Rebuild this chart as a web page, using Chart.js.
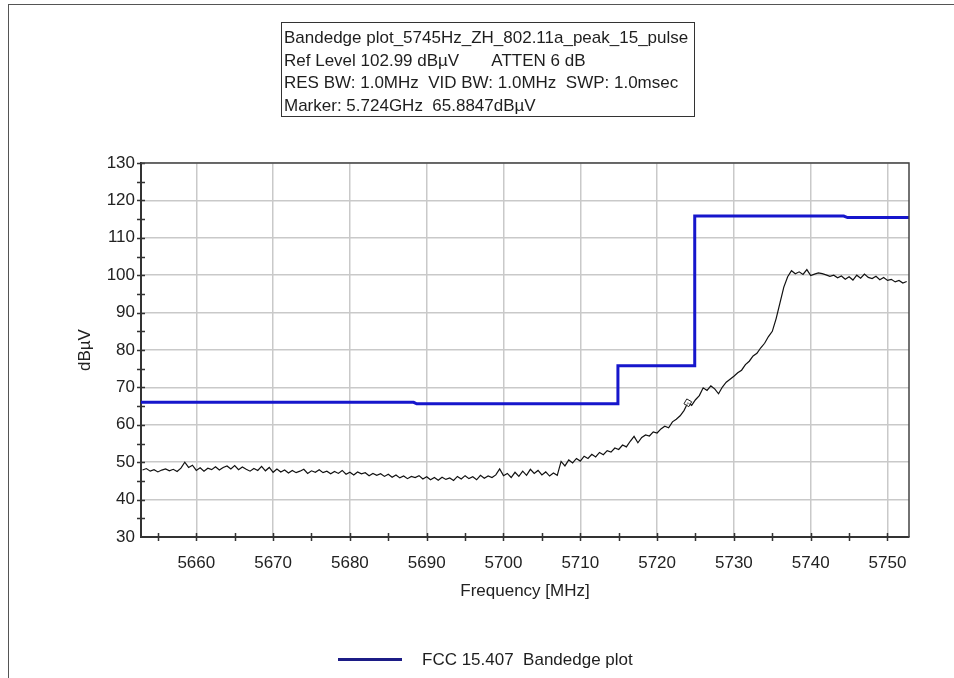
<!DOCTYPE html>
<html>
<head>
<meta charset="utf-8">
<title>Bandedge plot</title>
<script src="https://cdn.jsdelivr.net/npm/chart.js@4.4.1/dist/chart.umd.min.js"></script>
<style>
  html, body { margin: 0; padding: 0; background: #fff; }
  #wrap { position: relative; width: 954px; height: 678px; overflow: hidden; font-family: "Liberation Sans", Arial, sans-serif; color: #1e1e1e; }
  #frame { position: absolute; left: 8px; top: 4px; right: -2px; bottom: -2px; border-left: 1px solid #555; border-top: 1px solid #555; }
  #plot { position: absolute; left: 0; top: 0; }
  #info { position: absolute; left: 281px; top: 22px; width: 414px; height: 95px; border: 1px solid #333; box-sizing: border-box;
          font-size: 17px; line-height: 22.7px; padding: 4px 0 0 2px; white-space: pre; }
  #legend { position: absolute; left: 338px; top: 648px; height: 24px; font-size: 17px; line-height: 24px; white-space: nowrap; }
  #legend .swatch { position: absolute; left: 0; top: 10px; width: 64px; height: 3px; background: #1c1c86; }
  #legend .label { position: absolute; left: 84px; top: 0; white-space: pre; }
</style>
</head>
<body>
<div id="wrap">
  <div id="frame"></div>
  <canvas id="plot" width="954" height="678"></canvas>
  <div id="info"></div>
  <div id="legend"><div class="swatch"></div><div class="label"></div></div>
</div>
<script>
// Header lines of the measurement
const headerLines = [
  "Bandedge plot_5745Hz_ZH_802.11a_peak_15_pulse",
  "Ref Level 102.99 dB\u00b5V       ATTEN 6 dB",
  "RES BW: 1.0MHz  VID BW: 1.0MHz  SWP: 1.0msec",
  "Marker: 5.724GHz  65.8847dB\u00b5V"
];
const legendLabel = "FCC 15.407  Bandedge plot";

// Axis ranges and tick labels
const freqMin = 5652.8;
const freqMax = 5752.8;
const freqTicks = [5660, 5670, 5680, 5690, 5700, 5710, 5720, 5730, 5740, 5750];
const levelMin = 30;
const levelMax = 130;
const levelTicks = [30, 40, 50, 60, 70, 80, 90, 100, 110, 120, 130];

// Limit line corners (MHz, dBµV)
const limitFreq  = [5652.8, 5688.3, 5688.7, 5714.9, 5714.9, 5724.9, 5724.9, 5744.3, 5744.8, 5752.8];
const limitLevel = [66.0,   66.0,   65.6,   65.6,   75.8,   75.8,   115.8,  115.8,  115.4,  115.4];

// Sweep trace, one reading every 0.5 MHz from 5653.0 MHz
const sweepStart = 5653.0;
const sweepStep = 0.5;
const sweepLevel = [
  47.9, 48.3, 47.6, 48.0, 47.4, 47.9, 48.2, 47.7, 48.1, 47.5,
  48.4, 50.0, 48.6, 49.2, 47.8, 48.5, 47.6, 48.4, 48.0, 48.8,
  47.9, 48.6, 49.0, 48.2, 49.1, 48.0, 48.7, 48.1, 47.6, 48.3,
  47.8, 48.9, 47.7, 48.6, 47.3, 48.2, 47.4, 47.9, 47.1, 47.8,
  47.2, 47.6, 48.1, 47.0, 47.7, 47.3, 48.0, 47.2, 47.6, 46.9,
  47.5, 47.0, 47.8, 46.8, 47.3, 46.6, 47.4, 46.9, 47.2, 46.4,
  47.0, 46.5, 46.9, 46.2, 46.8, 46.0, 46.6, 45.8, 46.3, 45.6,
  46.2, 45.9, 46.4, 45.5, 46.1, 45.3, 45.9, 45.2, 46.0, 45.4,
  45.8, 45.1, 46.2, 45.5, 46.4, 45.6, 46.1, 45.3, 46.5, 45.7,
  46.3, 45.9, 46.6, 48.2, 46.4, 47.0, 45.9, 47.3, 46.2, 47.6,
  46.5, 48.1, 47.0, 47.8, 46.6, 47.4, 46.3, 47.1, 46.5, 50.2,
  49.0, 50.6, 49.8, 51.0, 50.3, 51.6, 51.0, 52.1, 51.4, 52.6,
  52.0, 53.1, 52.7, 53.8, 53.4, 54.6, 54.1, 55.6, 56.9, 55.2,
  56.6, 57.3, 57.0, 58.1, 57.8, 58.9, 59.6, 59.2, 60.8, 61.5,
  62.4, 63.8, 65.88, 65.2, 66.7, 67.8, 69.9, 69.2, 70.4, 69.6,
  68.3, 70.1, 71.4, 72.2, 73.0, 73.9, 74.6, 76.1, 77.0, 78.4,
  79.1, 80.6, 81.8, 83.6, 85.0, 88.4, 92.6, 96.8, 99.6, 101.2,
  100.4, 100.9, 100.2, 101.5, 99.9, 100.3, 100.6, 100.4, 100.1, 99.7,
  100.0, 99.3, 99.8, 98.9, 99.6, 98.7, 100.0, 99.2, 100.3, 99.4,
  99.1, 99.7, 98.8, 99.4, 98.6, 98.9, 98.2, 98.6, 97.9, 98.3
];

// Marker reading
const markerFreq = 5724.0;
const markerLevel = 65.8847;

document.getElementById('info').textContent = headerLines.join('\n');
document.querySelector('#legend .label').textContent = legendLabel;

const sweepPoints = sweepLevel.map((v, i) => ({ x: sweepStart + i * sweepStep, y: v }));
const limitPoints = limitFreq.map((f, i) => ({ x: f, y: limitLevel[i] }));

// Cross-shaped minor ticks on both axes plus the top/right frame of the plot box
const axisDecor = {
  id: 'axisDecor',
  afterDraw(chart) {
    const { ctx, chartArea: a, scales: { x, y } } = chart;
    ctx.save();
    ctx.strokeStyle = '#333';
    ctx.lineWidth = 1.5;
    ctx.beginPath();
    for (let f = 5655; f < freqMax; f += 5) {
      const px = Math.round(x.getPixelForValue(f)) + 0.5;
      ctx.moveTo(px, a.bottom - 4);
      ctx.lineTo(px, a.bottom + 4);
    }
    for (let v = levelMin + 5; v <= levelMax; v += 5) {
      const py = Math.round(y.getPixelForValue(v)) + 0.5;
      ctx.moveTo(a.left - 4, py);
      ctx.lineTo(a.left + 4, py);
    }
    ctx.stroke();
    ctx.strokeStyle = '#444';
    ctx.lineWidth = 1.5;
    ctx.beginPath();
    ctx.moveTo(a.left, a.top);
    ctx.lineTo(a.right, a.top);
    ctx.lineTo(a.right, a.bottom);
    ctx.stroke();
    ctx.restore();
  }
};

Chart.defaults.font.family = '"Liberation Sans", Arial, sans-serif';
Chart.defaults.font.size = 17;
Chart.defaults.color = '#222';

new Chart(document.getElementById('plot'), {
  type: 'line',
  data: {
    datasets: [
      {
        label: 'Marker',
        data: [{ x: markerFreq, y: markerLevel }],
        showLine: false,
        pointStyle: 'rect',
        rotation: 30,
        pointRadius: 4,
        pointBorderWidth: 1,
        pointBorderColor: '#222',
        pointBackgroundColor: 'rgba(255,255,255,0.6)'
      },
      {
        label: legendLabel,
        data: limitPoints,
        borderColor: '#1616cc',
        borderWidth: 3,
        pointRadius: 0,
        tension: 0
      },
      {
        label: 'Trace',
        data: sweepPoints,
        borderColor: '#111',
        borderWidth: 1.2,
        pointRadius: 0,
        tension: 0
      }
    ]
  },
  options: {
    responsive: false,
    animation: false,
    layout: { padding: { left: 72, right: 45, top: 163, bottom: 71 } },
    plugins: { legend: { display: false }, tooltip: { enabled: false } },
    scales: {
      x: {
        type: 'linear',
        min: freqMin,
        max: freqMax,
        afterBuildTicks(scale) { scale.ticks = freqTicks.map(v => ({ value: v })); },
        afterFit(scale) { scale.height = 70; },
        ticks: { padding: 16, maxRotation: 0, autoSkip: false, color: '#222', font: { size: 17 }, callback: v => String(v) },
        grid: { color: '#c9c9c9', lineWidth: 1.5, drawTicks: false },
        border: { display: true, color: '#333', width: 2 },
        title: { display: true, text: 'Frequency [MHz]', color: '#222', font: { size: 17 }, padding: { top: 0, bottom: 5 } }
      },
      y: {
        type: 'linear',
        min: levelMin,
        max: levelMax,
        afterBuildTicks(scale) { scale.ticks = levelTicks.map(v => ({ value: v })); },
        afterFit(scale) { scale.width = 69; },
        ticks: { padding: 6, color: '#222', font: { size: 17 }, callback: v => String(v) },
        grid: { color: '#c9c9c9', lineWidth: 1.5, drawTicks: false },
        border: { display: true, color: '#333', width: 2 },
        title: { display: true, text: 'dB\u00b5V', color: '#222', font: { size: 17 }, padding: { top: 3, bottom: 0 } }
      }
    }
  },
  plugins: [axisDecor]
});
</script>
</body>
</html>
